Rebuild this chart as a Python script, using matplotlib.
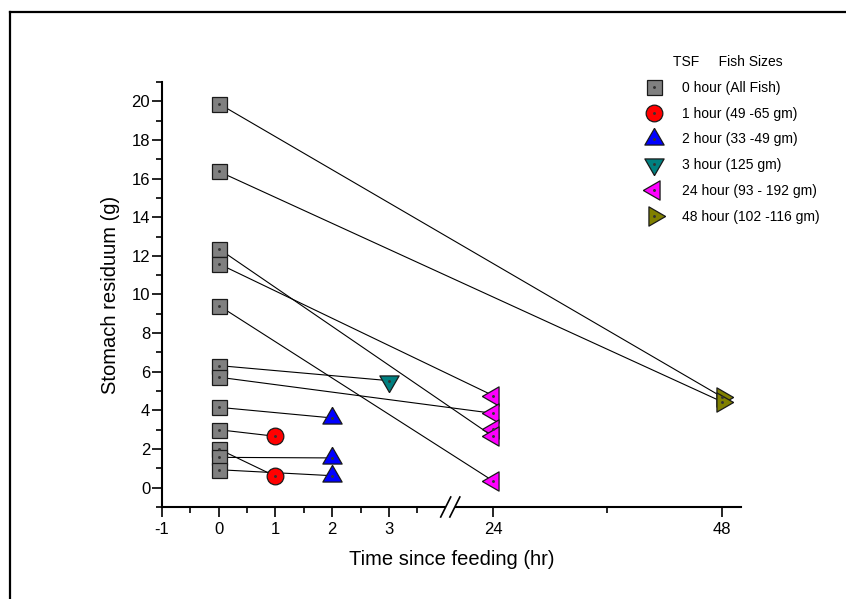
import numpy as np
import matplotlib
matplotlib.use("Agg")
import matplotlib.pyplot as plt
from matplotlib.lines import Line2D
from matplotlib.legend_handler import HandlerTuple
import matplotlib.transforms as mtransforms

plt.rcParams['font.family'] = ['Liberation Sans', 'DejaVu Sans']

# ---------------- data ----------------
t0_y = [19.88, 16.37, 12.37, 11.59, 9.43, 6.32, 5.72, 4.16, 3.0, 2.0, 1.57, 0.93]
t1_y = [2.66, 0.59]
t2_y = [3.61, 1.54, 0.62]
t3_y = [5.54]
t24_y = [4.77, 3.85, 3.05, 2.65, 0.35]
t48_y = [4.7, 4.45]

link_start_y = [19.88, 16.37, 12.37, 11.59, 9.43, 6.32, 5.72, 4.16, 3.0, 2.0, 1.57, 0.93]
link_end_t = [48, 48, 24, 24, 24, 3, 24, 2, 1, 1, 2, 2]
link_end_y = [4.7, 4.45, 2.65, 4.77, 0.35, 5.54, 3.85, 3.61, 2.66, 0.59, 1.54, 0.62]

series_labels = ["0 hour (All Fish)", "1 hour (49 -65 gm)", "2 hour (33 -49 gm)",
                 "3 hour (125 gm)", "24 hour (93 - 192 gm)", "48 hour (102 -116 gm)"]
series_t = [0, 1, 2, 3, 24, 48]

x_major = [-1, 0, 1, 2, 3, 24, 48]
x_minor = [-0.5, 0.5, 1.5, 2.5, 3.5, 36]
y_major = list(range(0, 21, 2))
y_minor = list(range(-1, 22, 2))

# ---------------- broken-axis scale ----------------
GAP = 0.161
SC = 0.1681

def fwd(x):
    x = np.asarray(x, dtype=float)
    return np.where(x <= 4, x,
                    np.where(x < 20, 4 + (x - 4) * GAP / 16,
                             4 + GAP + (x - 20) * SC))

def inv(p):
    p = np.asarray(p, dtype=float)
    return np.where(p <= 4, p,
                    np.where(p < 4 + GAP, 4 + (p - 4) * 16 / GAP,
                             20 + (p - 4 - GAP) / SC))

# ---------------- markers ----------------
up = [(0, 1), (-0.866, -0.5), (0.866, -0.5), (0, 1)]
down = [(0, -1), (-0.866, 0.5), (0.866, 0.5), (0, -1)]
left = [(-1, 0), (0.5, 0.866), (0.5, -0.866), (-1, 0)]
right = [(1, 0), (-0.5, 0.866), (-0.5, -0.866), (1, 0)]

styles = [
    dict(marker='s', ms=10.8, mfc='#808080'),
    dict(marker='o', ms=12, mfc='#FF0000'),
    dict(marker=up, ms=16, mfc='#0000FF'),
    dict(marker=down, ms=16, mfc='#008080'),
    dict(marker=left, ms=16, mfc='#FF00FF'),
    dict(marker=right, ms=16, mfc='#808000'),
]
series_y = [t0_y, t1_y, t2_y, t3_y, t24_y, t48_y]

fig = plt.figure(figsize=(8.46, 5.99), dpi=100)
W, H = 846, 599
ax = fig.add_axes([162 / W, 1 - 507 / H, (741 - 162) / W, (507 - 82) / H])
ax.set_xscale('function', functions=(fwd, inv))
ax.set_xlim(-1, 50)
ax.set_ylim(-1, 21)

# connecting lines
for ys, te, ye in zip(link_start_y, link_end_t, link_end_y):
    ax.plot([0, te], [ys, ye], color='black', lw=0.8, zorder=2)

handles = []
for t, ys, st, lab in zip(series_t, series_y, styles, series_labels):
    ax.plot([t] * len(ys), ys, linestyle='none', marker=st['marker'], ms=st['ms'],
            mfc=st['mfc'], mec='#1a1a1a', mew=0.9, zorder=3)
    ax.plot([t] * len(ys), ys, linestyle='none', marker='o', ms=1.1,
            color='#333333', zorder=4)
    h1 = Line2D([], [], linestyle='none', marker=st['marker'], ms=st['ms'],
                mfc=st['mfc'], mec='#1a1a1a', mew=0.9)
    h2 = Line2D([], [], linestyle='none', marker='o', ms=1.1, color='#333333')
    handles.append((h1, h2))

# axes styling
for s in ['top', 'right']:
    ax.spines[s].set_visible(False)
for s in ['left', 'bottom']:
    ax.spines[s].set_linewidth(1.5)
ax.set_xticks(x_major)
ax.set_xticklabels([str(v) for v in x_major])
ax.set_xticks(x_minor, minor=True)
ax.set_yticks(y_major)
ax.set_yticks(y_minor, minor=True)
ax.tick_params(which='major', length=7, width=1.2, labelsize=12, direction='out')
ax.tick_params(which='minor', length=4, width=1.2, direction='out')
ax.tick_params(axis='y', which='major', pad=1.5)
ax.tick_params(axis='x', which='major', pad=3.5)

ax.set_xlabel("Time since feeding (hr)", fontsize=14.5, labelpad=10)
ax.set_ylabel("Stomach residuum (g)", fontsize=14.5, labelpad=8)

# axis break marks
tr = mtransforms.blended_transform_factory(ax.transData, ax.transAxes)
ax.add_patch(plt.Rectangle((4.0, -0.01), 20 - 4.0, 0.02, transform=tr,
                           facecolor='white', edgecolor='none', zorder=5,
                           clip_on=False))
for xb in [4.0, 20.0]:
    px = fwd(xb)
    pts = [(-5, -10), (5, 10)]
    xs = [inv(px + dx / 56.75) for dx, dy in pts]
    ys = [dy / 425.0 for dx, dy in pts]
    ax.plot(xs, ys, transform=tr, color='black', lw=1.2, clip_on=False, zorder=6)

leg = ax.legend(handles, series_labels,
                handler_map={tuple: HandlerTuple(ndivide=1, pad=0)},
                loc='upper left', bbox_to_anchor=(647 / W, 1 - 55 / H),
                bbox_transform=fig.transFigure, frameon=False, fontsize=10,
                title="TSF     Fish Sizes   ", title_fontsize=10, borderpad=0,
                borderaxespad=0, handlelength=1.0, handletextpad=1.5,
                labelspacing=0.85)

# figure frame
fig.add_artist(Line2D([10 / W, 1.0], [1 - 12 / H, 1 - 12 / H], transform=fig.transFigure,
                      color='black', lw=1.6))
fig.add_artist(Line2D([10 / W, 10 / W], [0, 1 - 12 / H], transform=fig.transFigure,
                      color='black', lw=1.6))

fig.savefig("out.png", dpi=100)
